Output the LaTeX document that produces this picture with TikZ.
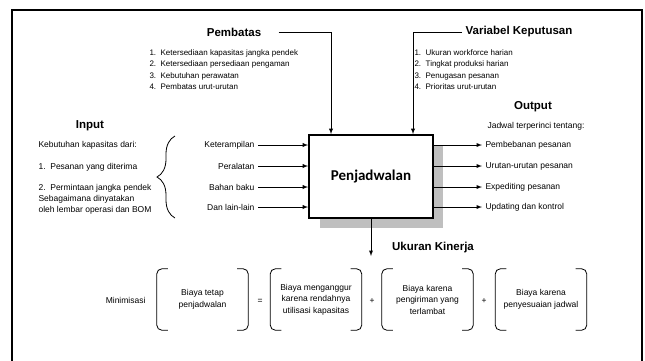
\documentclass[tikz,border=0pt]{standalone}
\usepackage{fontspec}
\setmainfont{Liberation Sans}
\newfontfamily\boxfont{Carlito}
\usetikzlibrary{arrows,decorations.pathreplacing}

\begin{document}
\begin{tikzpicture}[x=1pt,y=-1pt,
		title/.style={font=\fontsize{11.5}{13}\selectfont\bfseries},
		lst/.style={font=\fontsize{8}{11.5}\selectfont,align=left},
		lbl/.style={font=\fontsize{8.5}{10.5}\selectfont},
		cost/.style={font=\fontsize{8.5}{11.5}\selectfont,align=center,minimum width=91pt,minimum height=61pt},
		bracket/.style={rounded corners=5pt,line width=0.8pt},
		conn/.style={-latex,line width=0.9pt}]
				\useasboundingbox (0,0) rectangle (645,360);
				\draw[line width=1.6pt] (12,361) -- (12,10) -- (642,10) -- (642,361);
				% the scheduling box with its shadow
				\fill[black!25] (320,146) rectangle (443,228);
				\node[draw,line width=1.8pt,fill=white,minimum width=124pt,minimum height=83pt,font=\boxfont\fontsize{15}{18}\selectfont\bfseries] (box) at (371,176.5) {Penjadwalan};
				% constraints and decision variables
				\node[title] (pb) at (234,32) {Pembatas};
				\node[lst,anchor=north west] (pbl) at (146,46) {1.\ \ Ketersediaan kapasitas jangka pendek\\2.\ \ Ketersediaan persediaan pengaman\\3.\ \ Kebutuhan perawatan\\4.\ \ Pembatas urut-urutan};
				\node[title] (vk) at (519,32) {Variabel Keputusan};
				\node[lst,anchor=north west] (vkl) at (411,46) {1.\ \ Ukuran workforce harian\\2.\ \ Tingkat produksi harian\\3.\ \ Penugasan pesanan\\4.\ \ Prioritas urut-urutan};
				\draw[conn] ([xshift=14pt]pb.east) -| ([xshift=-40pt]box.north);
				\draw[conn] (vk.west) -| ([xshift=42pt]box.north);
				% input
				\node[title] (in) at (90,126) {Input};
				\node[lbl,anchor=west] (in1) at (35,145) {Kebutuhan kapasitas dari:};
				\node[lbl,anchor=west] (in2) at (35,167) {1.\ \ Pesanan yang diterima};
				\node[lbl,anchor=west] (in3) at (35,188) {2.\ \ Permintaan jangka pendek};
				\node[lbl,anchor=north west,align=left,font=\fontsize{8.5}{11}\selectfont] (in4) at (35,192) {Sebagaimana dinyatakan\\oleh lembar operasi dan BOM};
				\draw[decorate,decoration={brace,amplitude=18pt},line width=0.8pt] (175,218) -- (175,136);
				\node[lbl,anchor=east] (k1) at (258,145) {Keterampilan};
				\node[lbl,anchor=east] (k2) at (258,166) {Peralatan};
				\node[lbl,anchor=east] (k3) at (258,187) {Bahan baku};
				\node[lbl,anchor=east] (k4) at (258,207) {Dan lain-lain};
				\foreach \k in {k1,k2,k3,k4}
					\draw[conn] (\k.east) -- (\k.east -| box.west);
				% output
				\node[title] (out) at (533,107) {Output};
				\node[lbl,anchor=west] (outh) at (484,126) {Jadwal terperinci tentang:};
				\node[lbl,anchor=west] (o1) at (482,145) {Pembebanan pesanan};
				\node[lbl,anchor=west] (o2) at (482,166) {Urutan-urutan pesanan};
				\node[lbl,anchor=west] (o3) at (482,187) {Expediting pesanan};
				\node[lbl,anchor=west] (o4) at (482,207) {Updating dan kontrol};
				\foreach \o in {o1,o2,o3,o4}
					\draw[conn] (\o.west -| box.east) -- (\o.west);
				% performance measures
				\coordinate (uk) at (371,256);
				\draw[conn] (box.south) -- (uk);
				\node[title] (ukt) at (433,248) {Ukuran Kinerja};
				\node[lbl,anchor=east] (min) at (149,300) {Minimisasi};
				\node[cost] (c1) at (202.5,299.5) {Biaya tetap\\penjadwalan};
				\node[lbl] (eq) at (260,301) {=};
				\node[cost] (c2) at (316,299.5) {Biaya menganggur\\karena rendahnya\\utilisasi kapasitas};
				\node[lbl] (p1) at (372,301) {+};
				\node[cost] (c3) at (427.5,299.5) {Biaya karena\\pengiriman yang\\terlambat};
				\node[lbl] (p2) at (484,301) {+};
				\node[cost] (c4) at (541,299.5) {Biaya karena\\penyesuaian jadwal};
				\foreach \c in {c1,c2,c3,c4} {
					\draw[bracket] ([xshift=11pt]\c.north west) -| (\c.south west) -- ([xshift=11pt]\c.south west);
					\draw[bracket] ([xshift=-11pt]\c.north east) -| (\c.south east) -- ([xshift=-11pt]\c.south east);
				}
			\end{tikzpicture}
\end{document}
